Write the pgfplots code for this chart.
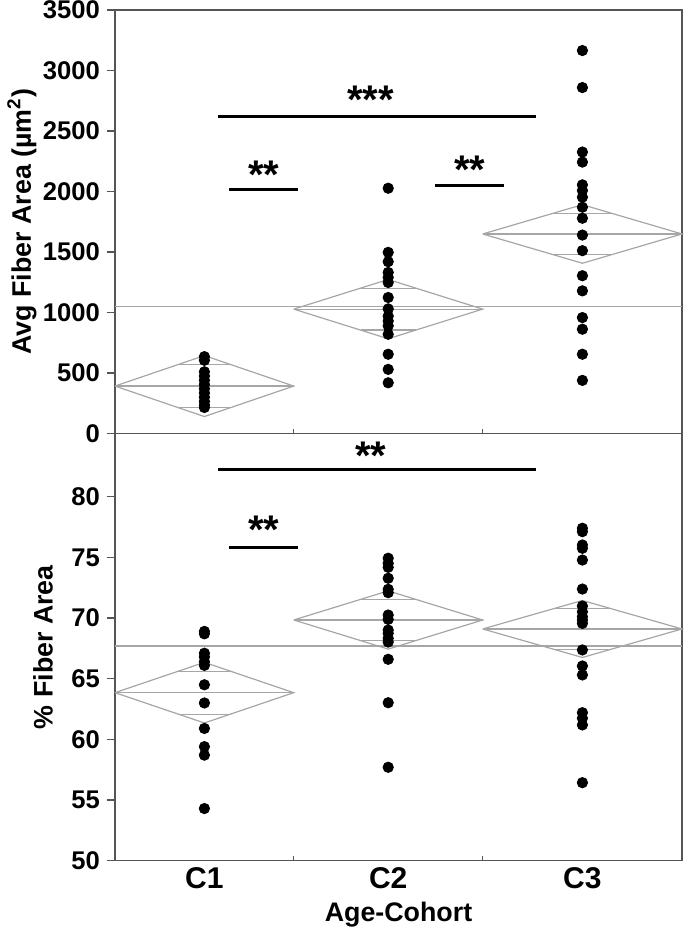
\documentclass[border=0pt]{standalone}
\usepackage{fontspec}
\setmainfont{Liberation Sans}
\usepackage{pgfplots}
\pgfplotsset{compat=1.18}
\usetikzlibrary{calc}
\definecolor{dmd}{HTML}{A6A6A6}
\definecolor{axc}{HTML}{555555}

\begin{document}
\begin{tikzpicture}
\tikzset{ast/.style={font=\fontsize{20}{22}\selectfont\bfseries}}
\pgfplotsset{
  panel/.style={
    scale only axis, width=283.5pt,
    xmin=0, xmax=567, clip=false,
    axis line style={axc, line width=0.7pt},
    tick style={axc, line width=0.7pt},
    xtick=\empty, ytick pos=left, tick align=outside,
    major tick length=4pt,
    yticklabel={\pgfmathprintnumber{\tick}},
    yticklabel style={font=\fontsize{12.8}{14}\selectfont\bfseries},
    xticklabel style={font=\fontsize{15}{17}\selectfont\bfseries},
    /pgf/number format/assume math mode=true,
    /pgf/number format/1000 sep={},
    label style={font=\fontsize{13.4}{15}\selectfont\bfseries},
  },
  dia/.style={dmd, line width=0.6pt},
  pts/.style={only marks, mark=*, mark size=2.6pt, black},
  sig/.style={black, line width=1.7pt},
}
% ---------------- top panel ----------------
\begin{axis}[panel, name=top, height=211.75pt,
  ymin=0, ymax=3500, ytick={0,500,...,3500},
  ylabel={Avg Fiber Area (µm\textsuperscript{2})},
  ylabel style={at={(axis description cs:-0.164,0.5)}, anchor=center}]
\addplot[dmd, line width=0.6pt] coordinates {(0,1047) (567,1047)};
% means diamonds
\addplot[dia] coordinates {(0,392) (89.4,644) (178.7,392) (89.4,140) (0,392)};
\addplot[dia] coordinates {(0,392) (178.7,392)};
\addplot[dia] coordinates {(63.2,570) (115.6,570)};
\addplot[dia] coordinates {(63.2,214) (115.6,214)};
\addplot[dia] coordinates {(178.7,1028) (273.2,1273) (367.7,1028) (273.2,783) (178.7,1028)};
\addplot[dia] coordinates {(178.7,1028) (367.7,1028)};
\addplot[dia] coordinates {(245.5,1201) (300.9,1201)};
\addplot[dia] coordinates {(245.5,855) (300.9,855)};
\addplot[dia] coordinates {(367.7,1649) (467.4,1891) (567,1649) (467.4,1407) (367.7,1649)};
\addplot[dia] coordinates {(367.7,1649) (567,1649)};
\addplot[dia] coordinates {(438.2,1820) (496.6,1820)};
\addplot[dia] coordinates {(438.2,1478) (496.6,1478)};
% points
\addplot[pts] coordinates {(89.4,635) (89.4,605) (89.4,510) (89.4,475) (89.4,440) (89.4,405)
  (89.4,370) (89.4,335) (89.4,300) (89.4,265) (89.4,235) (89.4,215)};
\addplot[pts] coordinates {(273.2,2027) (273.2,1497) (273.2,1420) (273.2,1331) (273.2,1290)
  (273.2,1248) (273.2,1124) (273.2,1030) (273.2,970) (273.2,930) (273.2,890) (273.2,820)
  (273.2,655) (273.2,530) (273.2,419)};
\addplot[pts] coordinates {(467.4,3165) (467.4,2859) (467.4,2326) (467.4,2243) (467.4,2055)
  (467.4,2008) (467.4,1953) (467.4,1870) (467.4,1779) (467.4,1640) (467.4,1511) (467.4,1304)
  (467.4,1179) (467.4,958) (467.4,862) (467.4,655) (467.4,439)};
% significance bars
\addplot[sig] coordinates {(103.3,2619) (420.7,2619)};
\addplot[sig] coordinates {(114,2016) (182.7,2016)};
\addplot[sig] coordinates {(320.3,2050) (389,2050)};
\node[ast] at (axis cs:255.7,2760) {***};
\node[ast] at (axis cs:149,2140) {**};
\node[ast] at (axis cs:355,2176) {**};
% category boundary ticks
\draw[axc, line width=0.7pt] (axis cs:178.7,0) -- (axis cs:178.7,41);
\draw[axc, line width=0.7pt] (axis cs:367.7,0) -- (axis cs:367.7,41);
\end{axis}
% ---------------- bottom panel ----------------
\begin{axis}[panel, name=bot, at={(top.south west)}, anchor=north west,
  height=213.6pt, ymin=50, ymax=85.21, ytick={50,55,...,80},
  extra x ticks={89.4,273.2,467.4}, extra x tick labels={C1,C2,C3},
  extra x tick style={major tick length=0pt},
  xlabel={Age-Cohort},
  xlabel style={at={(axis description cs:0.5,0)}, anchor=center, yshift=-27pt},
  ylabel={\% Fiber Area},
  ylabel style={at={(axis description cs:-0.127,0.5)}, anchor=center}]
\addplot[dmd, line width=0.6pt] coordinates {(0,67.70) (567,67.70)};
\addplot[dia] coordinates {(0,63.85) (89.4,66.35) (178.7,63.85) (89.4,61.35) (0,63.85)};
\addplot[dia] coordinates {(0,63.85) (178.7,63.85)};
\addplot[dia] coordinates {(63.2,65.62) (115.6,65.62)};
\addplot[dia] coordinates {(63.2,62.08) (115.6,62.08)};
\addplot[dia] coordinates {(178.7,69.84) (273.2,72.24) (367.7,69.84) (273.2,67.44) (178.7,69.84)};
\addplot[dia] coordinates {(178.7,69.84) (367.7,69.84)};
\addplot[dia] coordinates {(245.5,71.54) (300.9,71.54)};
\addplot[dia] coordinates {(245.5,68.14) (300.9,68.14)};
\addplot[dia] coordinates {(367.7,69.10) (467.4,71.45) (567,69.10) (467.4,66.75) (367.7,69.10)};
\addplot[dia] coordinates {(367.7,69.10) (567,69.10)};
\addplot[dia] coordinates {(438.2,70.76) (496.6,70.76)};
\addplot[dia] coordinates {(438.2,67.44) (496.6,67.44)};
\addplot[pts] coordinates {(89.4,68.9) (89.4,68.7) (89.4,67.1) (89.4,66.8) (89.4,66.4)
  (89.4,66.1) (89.4,64.5) (89.4,63.0) (89.4,60.9) (89.4,59.4) (89.4,58.7) (89.4,54.3)};
\addplot[pts] coordinates {(273.2,74.93) (273.2,74.51) (273.2,74.18) (273.2,73.28)
  (273.2,72.37) (273.2,72.09) (273.2,70.25) (273.2,69.89) (273.2,69.01) (273.2,68.74)
  (273.2,68.33) (273.2,68.02) (273.2,66.6) (273.2,63.02) (273.2,57.7)};
\addplot[pts] coordinates {(467.4,77.4) (467.4,77.12) (467.4,76.02) (467.4,75.75)
  (467.4,74.78) (467.4,72.39) (467.4,70.99) (467.4,70.52) (467.4,70.11) (467.4,69.84)
  (467.4,69.56) (467.4,67.37) (467.4,66.05) (467.4,65.31) (467.4,62.2) (467.4,61.74)
  (467.4,61.19) (467.4,56.43)};
\addplot[sig] coordinates {(103.3,82.26) (420.7,82.26)};
\addplot[sig] coordinates {(114,75.83) (182.7,75.83)};
\node[ast] at (axis cs:256,83.35) {**};
\node[ast] at (axis cs:149,77.3) {**};
\draw[axc, line width=0.7pt] (axis cs:178.7,50) -- (axis cs:178.7,50.41);
\draw[axc, line width=0.7pt] (axis cs:367.7,50) -- (axis cs:367.7,50.41);
\end{axis}
\pgfresetboundingbox
\path[use as bounding box] ($(top.north west)+(-57.5pt,5pt)$) rectangle ($(bot.south east)+(1.5pt,-35.65pt)$);
\end{tikzpicture}
\end{document}
